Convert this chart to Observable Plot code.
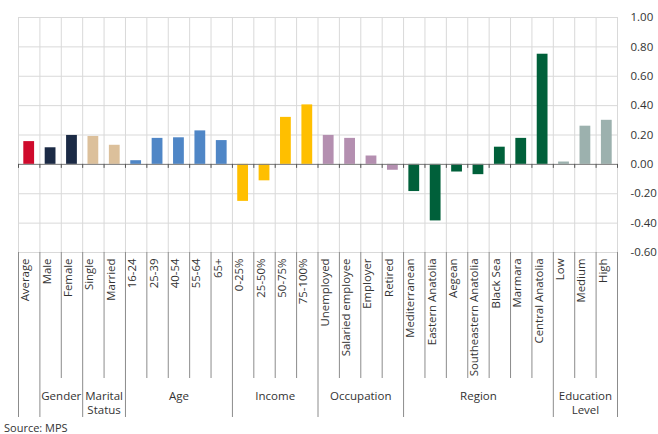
<!DOCTYPE html>
<html><head><meta charset="utf-8">
<script src="https://cdn.jsdelivr.net/npm/d3@7"></script>
<script src="https://cdn.jsdelivr.net/npm/@observablehq/plot@0.6"></script>
<style>
body{margin:0;background:#fff;font-family:"Open Sans",sans-serif}
#chart svg{display:block}
#src{font-size:11px;line-height:14px;padding-left:4px;color:#333;margin-top:1px}
</style>
</head><body><div id="chart"></div><div id="src">Source: MPS</div>
<script>
const categories = ["Average","Male","Female","Single","Married","16-24","25-39","40-54","55-64","65+","0-25%","25-50%","50-75%","75-100%","Unemployed","Salaried employee","Employer","Retired","Mediterranean","Eastern Anatolia","Aegean","Southeastern Anatolia","Black Sea","Marmara","Central Anatolia","Low","Medium","High"];
const values = [0.155,0.113,0.197,0.19,0.13,0.025,0.177,0.181,0.228,0.162,-0.252,-0.112,0.32,0.405,0.197,0.177,0.057,-0.04,-0.185,-0.385,-0.052,-0.07,0.117,0.177,0.75,0.016,0.26,0.3];
const groupNames = ["", "Gender", "Marital\nStatus", "Age", "Income", "Occupation", "Region", "Education\nLevel"];
const groupSizes = [1, 2, 2, 5, 4, 4, 7, 3];
const groupColors = ["#cf0a2c", "#1b2a45", "#dcc09b", "#4f86c6", "#ffbf00", "#b48fb0", "#00603a", "#9cb1ae"];
const yTicks = [-0.6, -0.4, -0.2, 0, 0.2, 0.4, 0.6, 0.8, 1.0];

const W = 658, H = 420, mT = 17, mB = H - 252, mL = 18, mR = 41;
const plotH = H - mT - mB;

const starts = [0];
groupSizes.forEach(s => starts.push(starts[starts.length - 1] + s));
const groupOf = [];
groupSizes.forEach((s, g) => { for (let k = 0; k < s; k++) groupOf.push(g); });
const data = categories.map((c, i) => ({i, category: c, value: values[i], group: groupOf[i]}));
const groups = groupNames.map((name, g) => ({name, center: (starts[g] + starts[g + 1]) / 2}));
const allBounds = d3.range(categories.length + 1);
const innerBounds = allBounds.filter(b => !starts.includes(b));

const chart = Plot.plot({
  width: W, height: H,
  marginTop: mT, marginBottom: mB, marginLeft: mL, marginRight: mR,
  style: {fontFamily: "Open Sans", fontSize: "11px", color: "#333", background: "#fff"},
  x: {type: "linear", domain: [0, categories.length], axis: null},
  y: {domain: [-0.6, 1.0], axis: null},
  color: {type: "ordinal", domain: d3.range(groupNames.length), range: groupColors},
  marks: [
    Plot.ruleY(yTicks, {stroke: "#d9d9d9", strokeWidth: 1}),
    Plot.ruleX(allBounds, {stroke: "#d9d9d9", strokeWidth: 1}),
    Plot.rectY(data, {x1: d => d.i, x2: d => d.i + 1, y: "value", fill: "group", insetLeft: 5.3, insetRight: 5.3}),
    Plot.ruleY([0], {stroke: "#7f7f7f", strokeWidth: 1}),
    Plot.ruleX(allBounds, {y1: () => 0, y2: () => 0, insetTop: 0, insetBottom: -4, stroke: "#555"}),
    Plot.ruleX(innerBounds, {insetTop: plotH, insetBottom: -126, stroke: "#8c8c8c"}),
    Plot.ruleX(starts, {insetTop: plotH, insetBottom: -165, stroke: "#8c8c8c"}),
    Plot.text(data, {x: d => d.i + 0.5, text: "category", frameAnchor: "bottom", dy: 6, rotate: -90, textAnchor: "end", fontSize: 11.4, fill: "#333"}),
    Plot.text(groups, {x: "center", text: "name", frameAnchor: "bottom", dy: 137, lineAnchor: "top", lineHeight: 1.25, fontSize: 11.5, fill: "#333"}),
    Plot.axisY(yTicks, {anchor: "right", tickSize: 0, tickPadding: 13, tickFormat: d => d.toFixed(2), fontSize: 11.5, label: null, color: "#333"})
  ]
});
document.getElementById("chart").append(chart);
</script>
</body></html>
